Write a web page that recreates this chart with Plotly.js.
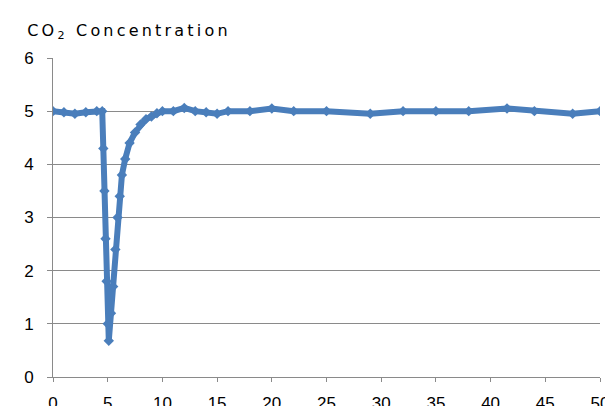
<!DOCTYPE html>
<html>
<head>
<meta charset="utf-8">
<script src="https://cdn.plot.ly/plotly-3.0.1.min.js"></script>
<style>
html,body{margin:0;padding:0;background:#fff;}
#chart{width:605px;height:406px;}
#chart .gtitle{letter-spacing:3.2px;}
</style>
</head>
<body>
<div id="chart"></div>
<script>
const timeValues = [0, 1, 2, 3, 4, 4.5, 4.6, 4.7, 4.8, 4.9, 5.0, 5.1, 5.3, 5.5, 5.7, 5.9, 6.1, 6.3, 6.6, 7.0, 7.5, 8.0, 8.5, 9.0, 9.5, 10, 11, 12, 13, 14, 15, 16, 18, 20, 22, 25, 29, 32, 35, 38, 41.5, 44, 47.5, 50];
const co2Values  = [5, 4.98, 4.95, 4.98, 5.0, 5.0, 4.3, 3.5, 2.6, 1.8, 1.0, 0.68, 1.2, 1.7, 2.4, 3.0, 3.4, 3.8, 4.1, 4.4, 4.6, 4.75, 4.85, 4.9, 4.96, 5.0, 5.0, 5.06, 5.0, 4.98, 4.95, 5.0, 5.0, 5.05, 5.0, 5.0, 4.95, 5.0, 5.0, 5.0, 5.05, 5.0, 4.95, 5.0];
const xTicks = [0, 5, 10, 15, 20, 25, 30, 35, 40, 45, 50];
const yTicks = [0, 1, 2, 3, 4, 5, 6];
const titleText = 'CO<sub>2</sub> Concentration';

const blue = '#4a7ebb';
const grey = '#8a8a8a';

Plotly.newPlot('chart', [{
  x: timeValues,
  y: co2Values,
  type: 'scatter',
  mode: 'lines+markers',
  line: {color: blue, width: 6},
  marker: {symbol: 'diamond', size: 8, color: blue},
  hoverinfo: 'none'
}], {
  width: 605,
  height: 406,
  margin: {l: 53, r: 5, t: 58, b: 29},
  paper_bgcolor: '#ffffff',
  plot_bgcolor: '#ffffff',
  showlegend: false,
  font: {family: 'Liberation Sans, Arial, sans-serif', color: '#000'},
  title: {
    text: titleText,
    x: 0.045, xref: 'container', xanchor: 'left',
    y: 0.926, yref: 'container', yanchor: 'middle',
    font: {family: 'DejaVu Sans, sans-serif', size: 16, color: '#000'}
  },
  xaxis: {
    range: [0, 50],
    tickvals: xTicks,
    ticktext: xTicks.map(String),
    showgrid: false,
    zeroline: false,
    showline: true,
    linecolor: grey,
    linewidth: 1,
    ticks: 'outside',
    ticklen: 4,
    tickcolor: grey,
    ticklabelstandoff: 7,
    ticklabeloverflow: 'allow',
    tickfont: {size: 17, family: 'Liberation Sans, Arial, sans-serif'},
    fixedrange: true
  },
  yaxis: {
    range: [0, 6],
    tickvals: yTicks,
    ticktext: yTicks.map(String),
    showgrid: true,
    gridcolor: grey,
    gridwidth: 1,
    zeroline: false,
    showline: true,
    linecolor: grey,
    linewidth: 1,
    ticks: 'outside',
    ticklen: 5,
    tickcolor: grey,
    ticklabelstandoff: 10,
    tickfont: {size: 17, family: 'Liberation Sans, Arial, sans-serif'},
    fixedrange: true
  }
}, {displayModeBar: false, staticPlot: true});
</script>
</body>
</html>
